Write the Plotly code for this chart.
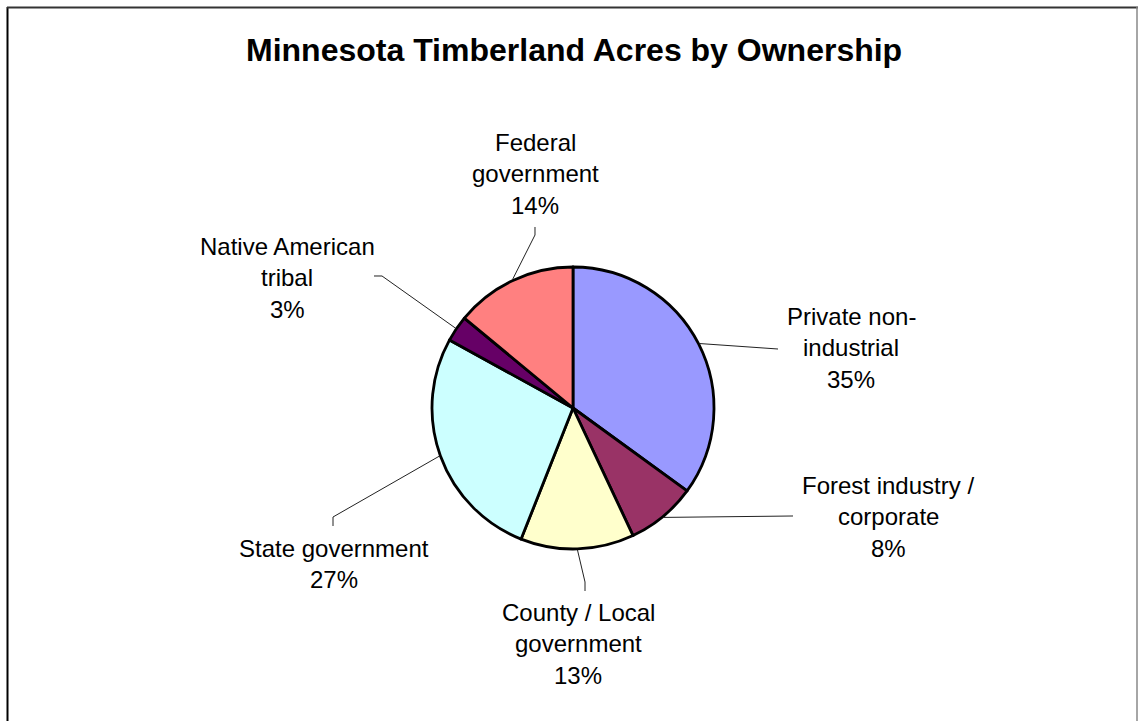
import math
import plotly.graph_objects as go

W, H = 1138, 721

# ---- data ----
categories = ["Private non-industrial", "Forest industry / corporate", "County / Local government",
              "State government", "Native American tribal", "Federal government"]
percents = [35, 8, 13, 27, 3, 14]
label_lines = [
    ["Private non-", "industrial", "35%"],
    ["Forest industry /", "corporate", "8%"],
    ["County / Local", "government", "13%"],
    ["State government", "27%"],
    ["Native American", "tribal", "3%"],
    ["Federal", "government", "14%"],
]
colors = ["#9999FF", "#993366", "#FFFFCC", "#CCFFFF", "#660066", "#FF8080"]

# ---- layout constants (pixels) ----
CX, CY, R = 573, 408, 141
# label anchor: center x, first line center y
label_pos = [(851, 316), (888, 485), (578, 612), (334, 548), (287, 246), (535, 142)]
LINE_H = 31.5
# leader line elbow/end points
leader_pts = [
    [(778, 349)],
    [(793, 516)],
    [(585, 582), (585, 591)],
    [(333, 517), (333, 526)],
    [(382, 276), (374, 276)],
    [(535, 235), (535, 227)],
]


def px(x):
    return x / W


def py(y):
    return 1 - y / H


fig = go.Figure(go.Pie(
    labels=categories,
    values=percents,
    sort=False,
    direction="clockwise",
    rotation=0,
    textinfo="none",
    hoverinfo="label+percent",
    marker=dict(colors=colors, line=dict(color="black", width=2.8)),
    domain=dict(x=[px(CX - R), px(CX + R)], y=[py(CY + R), py(CY - R)]),
    showlegend=False,
))

annotations = []
shapes = []
total = sum(percents)
cum = 0
for i, v in enumerate(percents):
    mid = (cum + v / 2) / total * 2 * math.pi
    cum += v
    sx = CX + (R + 1) * math.sin(mid)
    sy = CY - (R + 1) * math.cos(mid)
    pts = [(sx, sy)] + leader_pts[i]
    path = "M " + " L ".join(f"{px(x):.5f},{py(y):.5f}" for x, y in pts)
    shapes.append(dict(type="path", xref="paper", yref="paper", path=path,
                       line=dict(color="#222222", width=1)))
    lx, ly = label_pos[i]
    for j, t in enumerate(label_lines[i]):
        annotations.append(dict(text=t, x=px(lx), y=py(ly + j * LINE_H), xref="paper", yref="paper",
                                xanchor="center", yanchor="middle", showarrow=False,
                                font=dict(family="Arial, Liberation Sans", size=24, color="black")))

annotations.append(dict(text="<b>Minnesota Timberland Acres by Ownership</b>", x=px(573.5), y=py(50),
                        xref="paper", yref="paper", xanchor="center", yanchor="middle", showarrow=False,
                        font=dict(family="Arial, Liberation Sans", size=32, color="black")))

# chart border
shapes.append(dict(type="line", xref="paper", yref="paper", x0=px(7.5), x1=px(7.5), y0=py(7), y1=-0.05,
                   line=dict(color="black", width=2)))
shapes.append(dict(type="line", xref="paper", yref="paper", x0=px(7), x1=px(1138), y0=py(7.5), y1=py(7.5),
                   line=dict(color="#333333", width=2)))
shapes.append(dict(type="line", xref="paper", yref="paper", x0=px(1137), x1=px(1137), y0=py(7), y1=-0.05,
                   line=dict(color="#888888", width=1.5)))

fig.update_layout(
    width=W, height=H,
    margin=dict(l=0, r=0, t=0, b=0),
    paper_bgcolor="white", plot_bgcolor="white",
    annotations=annotations, shapes=shapes,
)

fig.write_html("out.html")
